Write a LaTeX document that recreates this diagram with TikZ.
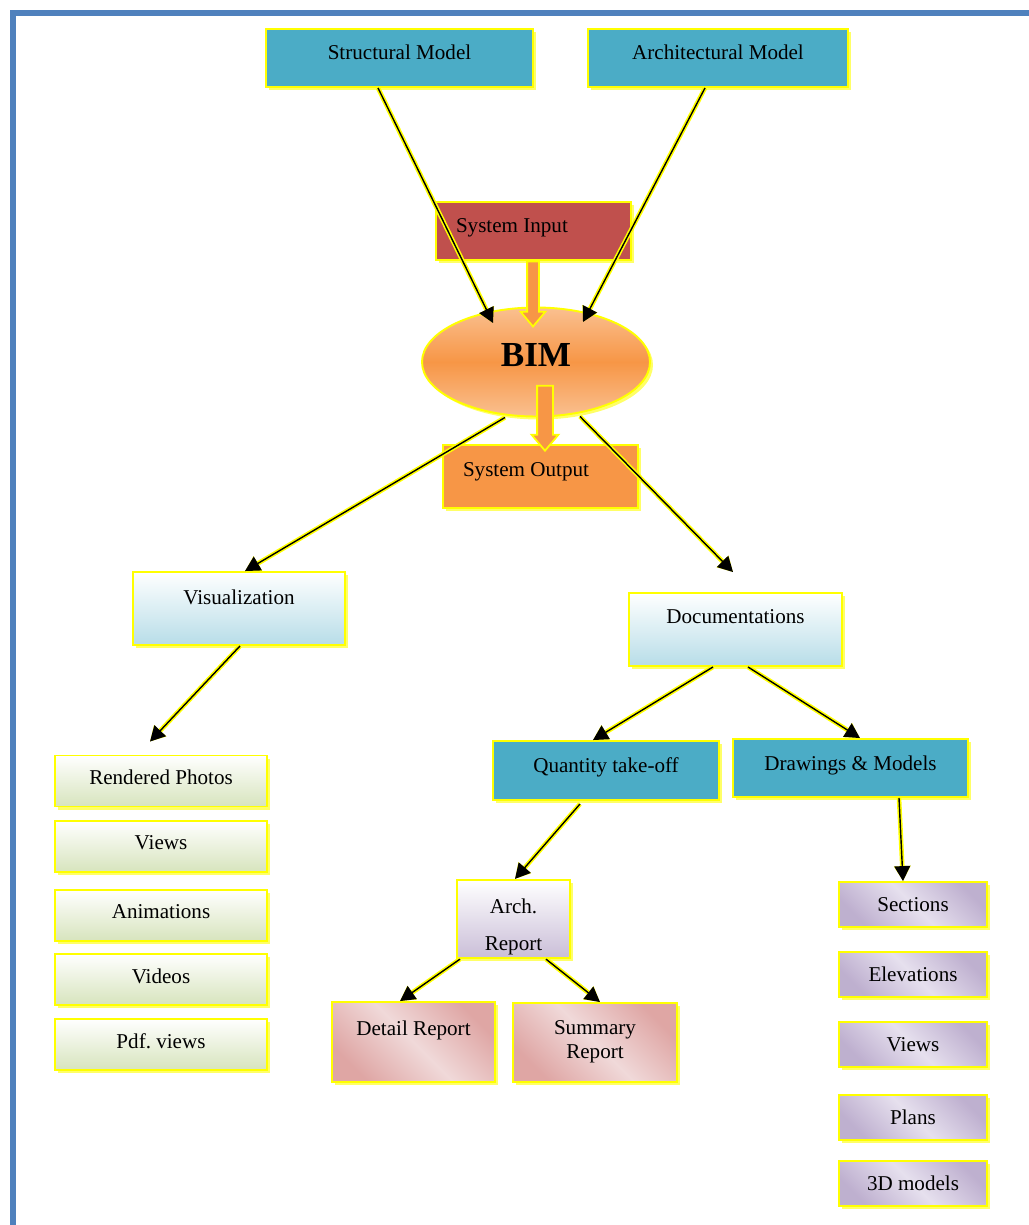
\documentclass[tikz,border=0pt]{standalone}
\usepackage{fontspec}
\setmainfont{Liberation Serif}
\usetikzlibrary{shapes,arrows.meta,positioning,calc,shadows}
\definecolor{BimTeal}{HTML}{4BACC6}
\definecolor{BimRed}{HTML}{C0504D}
\definecolor{BimOrange}{HTML}{F79646}
\definecolor{BimPeach}{HTML}{FAC090}
\definecolor{BimIce}{HTML}{B7DDE8}
\definecolor{BimSage}{HTML}{D7E4BD}
\definecolor{BimLilac}{HTML}{B3A2C7}
\definecolor{BimLilacPale}{HTML}{E6E0EE}
\definecolor{BimRose}{HTML}{D99694}
\definecolor{BimRosePale}{HTML}{F0D9D9}
\definecolor{BimFrame}{HTML}{4F81BD}
\definecolor{BimYellow}{HTML}{FFFF00}
\definecolor{BimShadow}{HTML}{FFFF66}
\tikzset{
    % Base node style
    basenode/.style={
        draw=BimYellow,
        line width=1.1pt,
        align=center,
        inner sep=2pt,
        font=\fontsize{12}{14}\selectfont\frenchspacing,
        drop shadow={shadow xshift=0.06cm, shadow yshift=-0.06cm,
            fill=BimShadow, opacity=1}
    },
    % Solid teal box
    tealbox/.style={
        basenode,
        fill=BimTeal
    },
    % Input / output boxes (text set to the left)
    flowbox/.style={
        basenode,
        text width=3.1cm,
        inner xsep=0.4cm,
        align=flush left,
        minimum height=1.16cm
    },
    % Light blue gradient box
    icebox/.style={
        basenode,
        top color=white,
        bottom color=BimIce,
        minimum width=4.24cm,
        minimum height=1.46cm
    },
    % Green gradient box
    sagebox/.style={
        basenode,
        top color=white,
        bottom color=BimSage,
        minimum width=4.24cm,
        minimum height=1.02cm,
        text depth=0.15cm
    },
    % Lilac box
    lilacbox/.style={
        basenode,
        top color=BimLilac!85!white,
        bottom color=BimLilac!85!white,
        middle color=BimLilacPale,
        shading angle=-45,
        minimum width=2.96cm,
        minimum height=0.9cm
    },
    % Rose box
    rosebox/.style={
        basenode,
        top color=BimRose!85!white,
        bottom color=BimRose!85!white,
        middle color=BimRosePale,
        shading angle=-45,
        minimum width=3.27cm,
        minimum height=1.6cm
    },
    % Raise the text inside a box
    lift/.style={text depth=#1},
    % Connector
    link/.style={
        -{Triangle[length=8.5pt,width=9pt]},
        line width=0.8pt,
        draw=black,
        preaction={draw=BimYellow, line width=2.6pt}
    },
    % Block arrow
    fatarrow/.style={
        single arrow,
        draw=BimYellow,
        line width=1pt,
        fill=BimOrange,
        rotate=-90,
        inner sep=0.1cm,
        minimum height=1.3cm,
        single arrow head extend=0.13cm,
        single arrow tip angle=80
    }
}

\begin{document}
\begin{tikzpicture}
    \useasboundingbox (0,0) rectangle (20.58,-24.5);
    % Page frame
    \draw[BimFrame, line width=0.12cm] (0.26,-24.8) -- (0.26,-0.26) -- (20.9,-0.26);

    % Models
    \node[tealbox, minimum width=5.34cm, minimum height=1.16cm, lift=0.25cm] (struct) at (7.99,-1.16) {Structural Model};
    \node[tealbox, minimum width=5.2cm, minimum height=1.16cm, lift=0.25cm] (arch) at (14.36,-1.16) {Architectural Model};

    % BIM core
    \node[flowbox, fill=BimRed, lift=0.2cm] (sysin) at (10.67,-4.62) {System Input};
    \node[basenode, ellipse, inner sep=0pt, minimum width=4.56cm, minimum height=2.18cm,
        top color=BimPeach, bottom color=BimPeach, middle color=BimOrange, text depth=0.3cm,
        font=\fontsize{20}{24}\selectfont\bfseries] (bim) at (10.72,-7.24) {BIM};
    \node[flowbox, fill=BimOrange, minimum height=1.26cm, lift=0.27cm] (sysout) at (10.81,-9.53) {System Output};
    \node[fatarrow] (inarrow) at (10.66,-5.81) {};
    \node[fatarrow, inner sep=0.14cm, single arrow head extend=0.11cm] (outarrow) at (10.9,-8.27) {};

    % Visualization branch
    \node[icebox, lift=0.45cm] (vis) at (4.78,-12.17) {Visualization};
    \node[sagebox] (rend) at (3.22,-15.62) {Rendered Photos};
    \node[sagebox] (vviews) at (3.22,-16.93) {Views};
    \node[sagebox] (anim) at (3.22,-18.31) {Animations};
    \node[sagebox] (videos) at (3.22,-19.59) {Videos};
    \node[sagebox] (pdf) at (3.22,-20.89) {Pdf. views};

    % Documentation branch
    \node[icebox, minimum width=4.26cm, lift=0.5cm] (doc) at (14.71,-12.59) {Documentations};
    \node[tealbox, minimum width=4.52cm, minimum height=1.18cm, lift=0.22cm] (qto) at (12.12,-15.41) {Quantity take-off};
    \node[tealbox, minimum width=4.7cm, minimum height=1.16cm, lift=0.2cm] (dm) at (17.01,-15.36) {Drawings \& Models};
    \node[basenode, top color=white, bottom color=BimLilac!70, minimum width=2.26cm, minimum height=1.52cm] (archrep) at (10.27,-18.38) {\rule{0pt}{17pt}Arch.\\[7pt]Report};
    \node[rosebox, lift=0.56cm] (detail) at (8.27,-20.84) {Detail Report};
    \node[rosebox, minimum height=1.58cm, lift=0.12cm] (summary) at (11.9,-20.85) {Summary\\Report};
    \node[lilacbox] (sections) at (18.26,-18.09) {Sections};
    \node[lilacbox] (elev) at (18.26,-19.49) {Elevations};
    \node[lilacbox] (dviews) at (18.26,-20.89) {Views};
    \node[lilacbox] (plans) at (18.26,-22.35) {Plans};
    \node[lilacbox] (models3d) at (18.26,-23.67) {3D models};

    % Connectors
    \draw[link] ([xshift=-0.43cm]struct.south) -- ([xshift=-0.86cm,yshift=0.78cm]bim.center);
    \draw[link] ([xshift=-0.26cm]arch.south) -- ([xshift=0.94cm,yshift=0.8cm]bim.center);
    \draw[link] ([xshift=-0.62cm]bim.south) -- ([xshift=0.12cm]vis.north);
    \draw[link] ([xshift=0.88cm,yshift=0.02cm]bim.south) -- ([xshift=-0.05cm,yshift=0.4cm]doc.north);
    \draw[link] ([xshift=0.02cm]vis.south) -- ([xshift=-0.22cm,yshift=0.26cm]rend.north);
    \draw[link] ([xshift=-0.45cm]doc.south) -- ([xshift=-0.26cm]qto.north);
    \draw[link] ([xshift=0.25cm]doc.south) -- ([xshift=0.19cm]dm.north);
    \draw[link] ([xshift=-0.52cm,yshift=-0.06cm]qto.south) -- ([xshift=0.03cm]archrep.north);
    \draw[link] ([xshift=0.97cm]dm.south) -- ([xshift=-0.2cm]sections.north);
    \draw[link] ([xshift=-1.07cm]archrep.south) -- ([xshift=-0.27cm]detail.north);
    \draw[link] ([xshift=0.65cm]archrep.south) -- ([xshift=0.1cm]summary.north);
\end{tikzpicture}
\end{document}
